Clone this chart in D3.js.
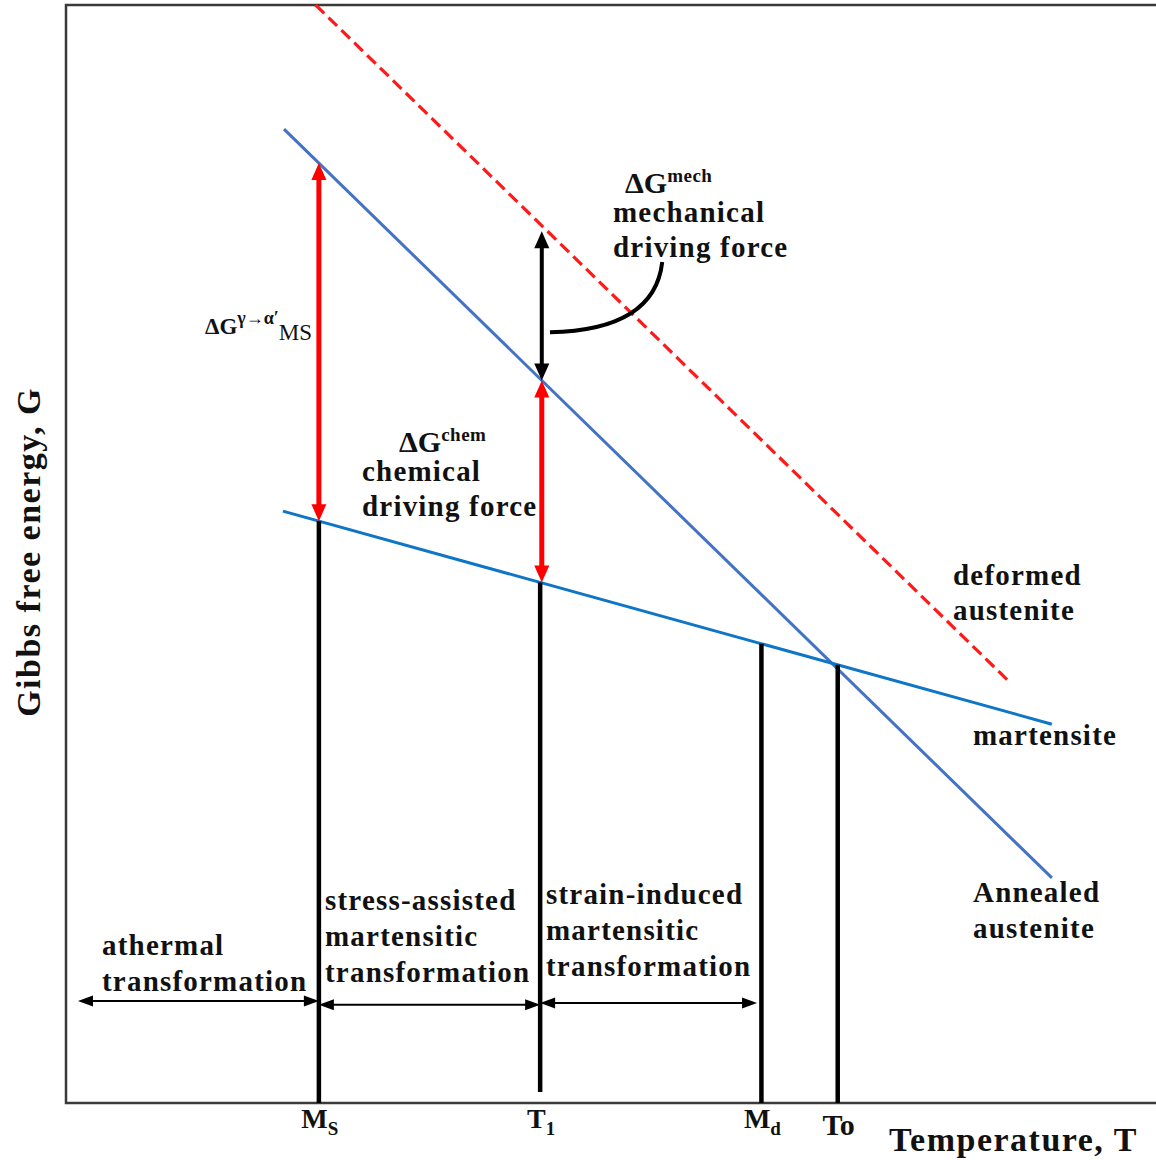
<!DOCTYPE html>
<html>
<head>
<meta charset="utf-8">
<script src="https://cdn.jsdelivr.net/npm/d3@7"></script>
<style>
  body { margin: 0; background: #fff; }
  text { font-family: "Liberation Serif", "Times New Roman", serif; font-weight: bold; fill: #111; }
</style>
</head>
<body>
<svg id="chart" width="1156" height="1160"></svg>
<script>
// Schematic Gibbs free energy (G) vs temperature (T), both in arbitrary units 0–100.

// Free-energy curves, given by their end points [T, G]
const annealedAustenite = [[20.0, 88.7], [90.45, 20.5]];
const martensiteCurve   = [[19.9, 53.9], [90.45, 34.5]];
const deformedAustenite = [[22.9, 100.0], [86.4, 38.5]];

// Characteristic temperatures on the T axis
const markKeys  = ["Ms", "T1", "Md", "To"];
const markTemps = [23.2, 43.5, 63.8, 70.8];
const markFloor = [0, 1.0, 0, 0];          // where each vertical drop ends on G

// Temperature ranges of the three transformation modes
const rangeFrom   = [1.1, 23.2, 43.5];
const rangeTo     = [23.2, 43.5, 63.4];
const rangeLevel  = [9.3, 8.95, 9.1];
const rangeLabels = [
  ["athermal", "transformation"],
  ["stress-assisted", "martensitic", "transformation"],
  ["strain-induced", "martensitic", "transformation"]
];

const width = 1156, height = 1160;
const plot = { left: 66, right: 1156, top: 5, bottom: 1103 };

const x = d3.scaleLinear().domain([0, 100]).range([plot.left, plot.right]);
const y = d3.scaleLinear().domain([0, 100]).range([plot.bottom, plot.top]);

const svg = d3.select("#chart");

// linear interpolation along a two-point curve
const gAt = (curve, t) => {
  const [[t0, g0], [t1, g1]] = curve;
  return g0 + (g1 - g0) * (t - t0) / (t1 - t0);
};

const line = d3.line().x(d => x(d[0])).y(d => y(d[1]));

// ---- frame (left, top, bottom) ----
const frame = svg.append("g").attr("stroke", "#3a3a3a").attr("stroke-width", 2.5).attr("fill", "none");
frame.append("path").attr("d", `M${x(100)},${y(100)} H${x(0)} V${y(0)} H${x(100)}`);

// ---- arrow head helper ----
function head(g, px, py, dir, len, half, color) {
  // dir: "up", "down", "left", "right" — (px,py) is the tip
  let pts;
  if (dir === "up")    pts = [[px, py], [px - half, py + len], [px + half, py + len]];
  if (dir === "down")  pts = [[px, py], [px - half, py - len], [px + half, py - len]];
  if (dir === "left")  pts = [[px, py], [px + len, py - half], [px + len, py + half]];
  if (dir === "right") pts = [[px, py], [px - len, py - half], [px - len, py + half]];
  g.append("path").attr("d", "M" + pts.join("L") + "Z").attr("fill", color);
}

// ---- curves ----
svg.append("path").datum(deformedAustenite).attr("d", line)
  .attr("stroke", "#ff1a1a").attr("stroke-width", 3.2).attr("stroke-dasharray", "12,6").attr("fill", "none");
svg.append("path").datum(annealedAustenite).attr("d", line)
  .attr("stroke", "#4472c4").attr("stroke-width", 3).attr("fill", "none");
svg.append("path").datum(martensiteCurve).attr("d", line)
  .attr("stroke", "#0f75c6").attr("stroke-width", 3).attr("fill", "none");

// ---- vertical drops at the characteristic temperatures ----
const drops = svg.append("g");
markKeys.forEach((k, i) => {
  const t = markTemps[i];
  const gTop = gAt(martensiteCurve, t);
  drops.append("line")
    .attr("x1", x(t)).attr("x2", x(t))
    .attr("y1", y(gTop)).attr("y2", y(markFloor[i]))
    .attr("stroke", "#000").attr("stroke-width", 4.5);
});

// ---- driving force arrows ----
const arrows = svg.append("g");
function vArrow(t, gLow, gHigh, color, w, len, half) {
  const yTop = y(gHigh), yBot = y(gLow);
  arrows.append("line").attr("x1", x(t)).attr("x2", x(t))
    .attr("y1", yTop + len - 2).attr("y2", yBot - len + 2)
    .attr("stroke", color).attr("stroke-width", w);
  head(arrows, x(t), yTop, "up", len, half, color);
  head(arrows, x(t), yBot, "down", len, half, color);
}
// ΔG at Ms: between annealed austenite and martensite
const tMs = markTemps[0], tT1 = markTemps[1];
vArrow(tMs, gAt(martensiteCurve, tMs), gAt(annealedAustenite, tMs), "#ff0000", 5, 17, 7.5);
// chemical driving force at T1
vArrow(tT1 + 0.15, gAt(martensiteCurve, tT1), gAt(annealedAustenite, tT1 + 0.15), "#ff0000", 5, 17, 7.5);
// mechanical driving force at T1
vArrow(tT1 + 0.15, gAt(annealedAustenite, tT1 + 0.15), gAt(deformedAustenite, tT1 + 0.15) - 0.5, "#000", 4, 17, 7.5);

// leader curve from the mechanical arrow to its label
svg.append("path")
  .attr("d", `M${x(44.4)},${y(70.2)} Q${x(54.0)},${y(70.4)} ${x(54.7)},${y(76.6)}`)
  .attr("stroke", "#000").attr("stroke-width", 4).attr("fill", "none");

// ---- transformation range arrows ----
const ranges = svg.append("g");
rangeFrom.forEach((t0, i) => {
  const t1 = rangeTo[i], yy = y(rangeLevel[i]);
  ranges.append("line").attr("x1", x(t0) + 8).attr("x2", x(t1) - 8)
    .attr("y1", yy).attr("y2", yy).attr("stroke", "#000").attr("stroke-width", 2);
  head(ranges, x(t0), yy, "left", 15, 5.5, "#000");
  head(ranges, x(t1), yy, "right", 15, 5.5, "#000");
});

// ---- labels ----
const labels = svg.append("g");
function block(lines, px, py, lh, size, spacing) {
  const t = labels.append("text").attr("x", px).attr("y", py)
    .style("font-size", size + "px").style("letter-spacing", spacing + "px");
  lines.forEach((s, i) => t.append("tspan").attr("x", px).attr("dy", i === 0 ? 0 : lh).text(s));
  return t;
}
const rangeAnchors = [[102, 955], [325, 910], [546, 904]];
rangeLabels.forEach((ls, i) => block(ls, rangeAnchors[i][0], rangeAnchors[i][1], 36, 29, 1.2));

block(["chemical", "driving force"], 362, 481, 35, 29, 1.2);
block(["mechanical", "driving force"], 613, 222, 35, 29, 1.2);
block(["deformed", "austenite"], 953, 585, 35, 29, 1.2);
block(["martensite"], 973, 745, 35, 29, 1.2);
block(["Annealed", "austenite"], 973, 902, 36, 29, 1.2);

// ΔG^chem and ΔG^mech
function deltaG(px, py, sup) {
  const t = labels.append("text").attr("x", px).attr("y", py).style("font-size", "30px");
  t.append("tspan").text("ΔG");
  t.append("tspan").attr("dy", -11).style("font-size", "19px").style("letter-spacing", "0.5px").text(sup);
}
deltaG(399, 452, "chem");
deltaG(625, 193, "mech");

// ΔG^{γ→α′}_{MS}
{
  const t = labels.append("text").attr("x", 205).attr("y", 334).style("font-size", "23px");
  t.append("tspan").text("ΔG");
  t.append("tspan").attr("dy", -10).style("font-size", "18px").text("γ→α′");
  t.append("tspan").attr("dy", 16).style("font-size", "23px").style("font-weight", "normal").text("MS");
}

// temperature axis marks
const markMain = ["M", "T", "M", "To"];
const markSub  = ["S", "1", "d", ""];
const markBase = [1128, 1128, 1128, 1135];
markKeys.forEach((k, i) => {
  const t = labels.append("text").attr("x", x(markTemps[i]) + 1).attr("y", markBase[i])
    .attr("text-anchor", "middle").style("font-size", i === 3 ? "30px" : "28px");
  t.append("tspan").text(markMain[i]);
  if (markSub[i]) t.append("tspan").attr("dy", 7).style("font-size", "19px").text(markSub[i]);
});

// axis titles
labels.append("text").attr("x", 889).attr("y", 1151).style("font-size", "34px")
  .style("letter-spacing", "1.5px").text("Temperature, T");
labels.append("text").attr("transform", "translate(40,552) rotate(-90)")
  .attr("text-anchor", "middle").style("font-size", "34px").style("letter-spacing", "1.5px")
  .text("Gibbs free energy, G");
</script>
</body>
</html>
